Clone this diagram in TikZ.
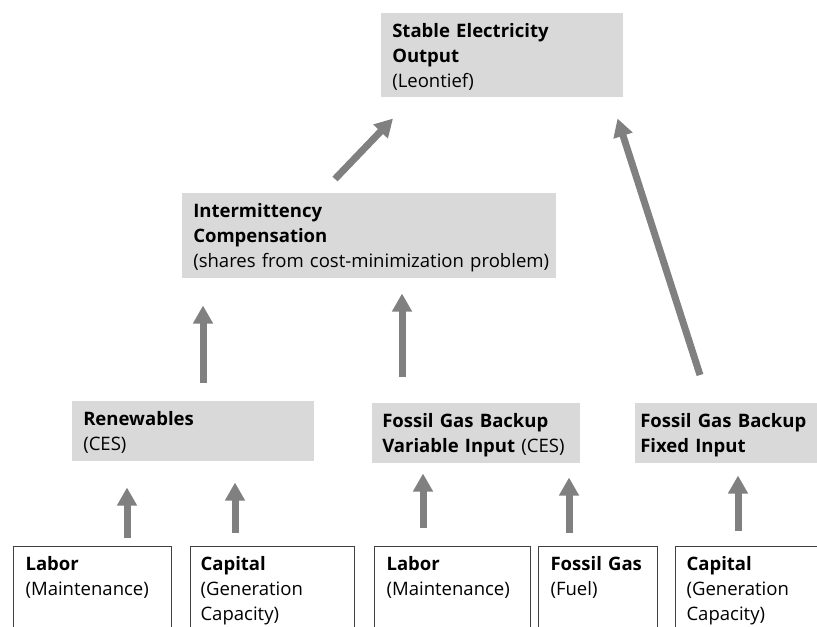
\documentclass[tikz,border=0pt]{standalone}
\usepackage{fontspec}
\setmainfont{Open Sans}
\usetikzlibrary{arrows.meta}
\definecolor{boxgray}{HTML}{D9D9D9}
\definecolor{arrowgray}{HTML}{808080}
\definecolor{framegray}{HTML}{404040}

\begin{document}
\begin{tikzpicture}[x=0.75pt,y=-0.75pt,
    every node/.style={font=\fontsize{13.9pt}{18.75pt}\selectfont},
    box/.style={anchor=north west, align=left, inner xsep=8.25pt, inner ysep=0pt, text height=18pt},
    level/.style={box, fill=boxgray},
    input/.style={box, draw=framegray, fill=white, line width=0.8pt, text depth=52.5pt},
    flow/.style={color=arrowgray, line width=5.25pt, -{Triangle[width=14.25pt,length=13.5pt]}}]
    \useasboundingbox (0,0) rectangle (817,627);
    % production levels
    \node[level, text width=165pt, text depth=45pt] (out) at (381,13)
      {\textbf{Stable Electricity}\\\textbf{Output}\\(Leontief)};
    \node[level, text width=264pt, text depth=45.75pt] (comp) at (182,193)
      {\textbf{Intermittency}\\\textbf{Compensation}\\\mbox{(shares from cost-minimization problem)}};
    \node[level, text width=165pt, text depth=27pt] (ren) at (72,401)
      {\textbf{Renewables}\\(CES)};
    \node[level, inner xsep=7.5pt, text width=141pt, text depth=27pt] (fgv) at (372,403)
      {\textbf{Fossil Gas Backup}\\\textbf{Variable Input} (CES)};
    \node[level, inner xsep=3.75pt, text width=135pt, text depth=27pt] (fgf) at (635,403)
      {\textbf{Fossil Gas Backup}\\\textbf{Fixed Input}};
    % inputs
    \node[input, inner xsep=9pt, text width=100.5pt] (lab1) at (13,546)
      {\textbf{Labor}\\(Maintenance)};
    \node[input, inner xsep=7.5pt, text width=108pt] (cap1) at (190,546)
      {\textbf{Capital}\\(Generation\\Capacity)};
    \node[input, inner xsep=9pt, text width=99pt] (lab2) at (374,546)
      {\textbf{Labor}\\(Maintenance)};
    \node[input, inner xsep=9pt, text width=71.25pt] (fuel) at (538,546)
      {\textbf{Fossil Gas}\\(Fuel)};
    \node[input, text width=100pt] (cap2) at (675,546)
      {\textbf{Capital}\\(Generation\\Capacity)};
    % arrows
    \draw[flow, shorten <=6pt, shorten >=19.5pt] ([xshift=85.5pt]lab1.north west) -- ([xshift=85.5pt]lab1.north west |- ren.south);
    \draw[flow, shorten <=9.75pt, shorten >=15.75pt] ([xshift=33.75pt]cap1.north west) -- ([xshift=33.75pt]cap1.north west |- ren.south);
    \draw[flow, shorten <=13.5pt, shorten >=7.5pt] ([xshift=36.75pt]lab2.north west) -- ([xshift=36.75pt]lab2.north west |- fgv.south);
    \draw[flow, shorten <=9.75pt, shorten >=10.5pt] ([xshift=23.25pt]fuel.north west) -- ([xshift=23.25pt]fuel.north west |- fgv.south);
    \draw[flow, shorten <=11.25pt, shorten >=9pt] ([xshift=47.25pt]cap2.north west) -- ([xshift=47.25pt]cap2.north west |- fgf.south);
    \draw[flow, shorten <=13.5pt, shorten >=20.25pt] ([xshift=98.25pt]ren.north west) -- ([xshift=98.25pt]ren.north west |- comp.south);
    \draw[flow, shorten <=19.5pt, shorten >=11.25pt] ([xshift=22.5pt]fgv.north west) -- ([xshift=22.5pt]fgv.north west |- comp.south);
    \draw[flow] ([shift={(114.75pt,10.5pt)}]comp.north west) -- ([shift={(9pt,-15.75pt)}]out.south west);
    \draw[flow] ([shift={(48.75pt,21pt)}]fgf.north west) -- ([shift={(-4.5pt,-15.75pt)}]out.south east);
  \end{tikzpicture}
\end{document}
